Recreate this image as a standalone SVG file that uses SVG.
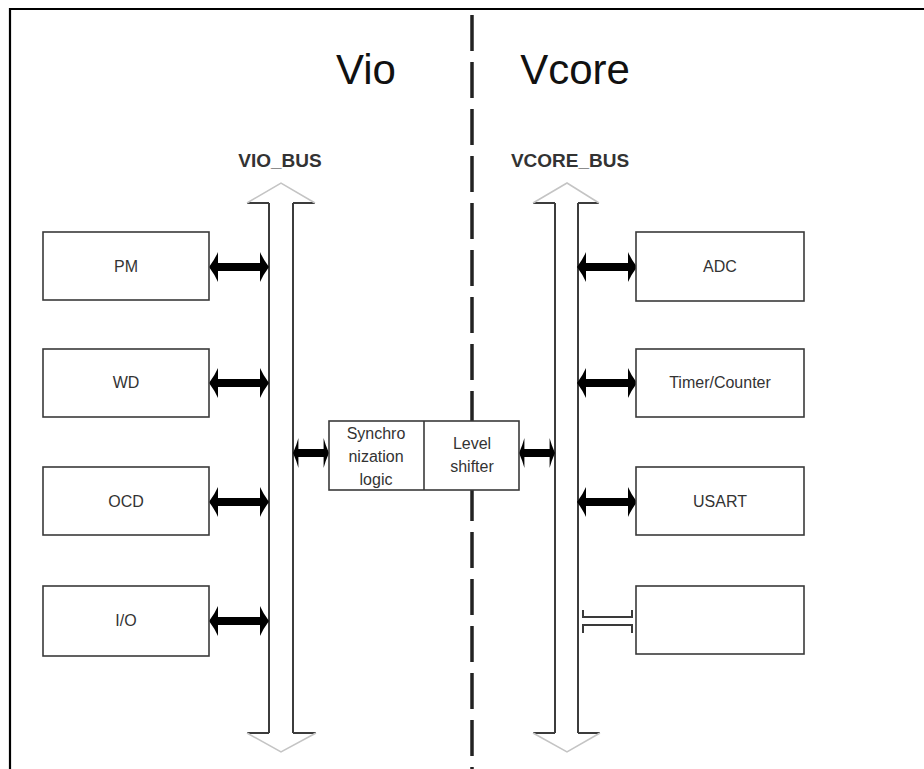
<svg xmlns="http://www.w3.org/2000/svg" width="924" height="769" viewBox="0 0 924 769">
<style>
.box{fill:#fff;stroke:#3a3a3a;stroke-width:1.6}
.lbl{font-family:"Liberation Sans",Arial,sans-serif;font-size:16px;fill:#333;text-anchor:middle}
.big{font-family:"Liberation Sans",Arial,sans-serif;font-size:42px;fill:#111;text-anchor:middle}
.bus{font-family:"Liberation Sans",Arial,sans-serif;font-size:19px;font-weight:bold;fill:#333;text-anchor:middle}
.shaft{fill:none;stroke:#3c3c3c;stroke-width:2}
.head{fill:none;stroke:#c4c4c4;stroke-width:1.5}
.dbl{fill:#000}
</style>
<defs>
<path id="darr" class="dbl" d="M0,0 Q6,-8 9,-15 L9,-4 H51 V-15 Q54,-8 60,0 Q54,8 51,15 V4 H9 V15 Q6,8 0,0 Z"/>
</defs>
<rect x="0" y="0" width="924" height="769" fill="#fff"/>
<path d="M10,769 V9 H924" fill="none" stroke="#000" stroke-width="2.2"/>
<line x1="472" y1="15" x2="472" y2="769" stroke="#222" stroke-width="3.5" stroke-dasharray="36 11"/>
<text class="big" x="366" y="84">Vio</text>
<text class="big" x="575" y="84">Vcore</text>
<text class="bus" x="280" y="167">VIO_BUS</text>
<text class="bus" x="570" y="167">VCORE_BUS</text>
<g id="vio_bus">
<path class="shaft" d="M269,203 V733 M293,203 V733 M247,203 H269 M293,203 H315 M247,733 H269 M293,733 H316"/>
<path class="head" d="M247,203 L281,183 L315,203 M247,733 L281,752 L316,733"/>
</g>
<g id="vcore_bus">
<path class="shaft" d="M555,203 V733 M578,203 V733 M533,203 H555 M578,203 H599 M533,733 H555 M578,733 H600"/>
<path class="head" d="M533,203 L567,183 L599,203 M533,733 L567,752 L600,733"/>
</g>
<g id="connectors">
<use href="#darr" x="209" y="267"/>
<use href="#darr" x="209" y="383"/>
<use href="#darr" x="209" y="502"/>
<use href="#darr" x="209" y="621"/>
<use href="#darr" x="577" y="267"/>
<use href="#darr" x="577" y="383"/>
<use href="#darr" x="577" y="502"/>
<g transform="translate(293,453) scale(0.6,1)"><use href="#darr"/></g>
<g transform="translate(519,453) scale(0.6,1)"><use href="#darr"/></g>
<path d="M583,610 V617 H632 V610 M583,633 V625 H632 V633" fill="none" stroke="#3a3a3a" stroke-width="2"/>
</g>
<g id="pm"><rect class="box" x="43" y="232" width="166" height="68"/><text class="lbl" x="126" y="272">PM</text></g>
<g id="wd"><rect class="box" x="43" y="349" width="166" height="68"/><text class="lbl" x="126" y="388">WD</text></g>
<g id="ocd"><rect class="box" x="43" y="467" width="166" height="68"/><text class="lbl" x="126" y="507">OCD</text></g>
<g id="io"><rect class="box" x="43" y="586" width="166" height="70"/><text class="lbl" x="126" y="626">I/O</text></g>
<g id="adc"><rect class="box" x="636" y="232" width="168" height="69"/><text class="lbl" x="720" y="272">ADC</text></g>
<g id="timer"><rect class="box" x="636" y="349" width="168" height="68"/><text class="lbl" x="720" y="388">Timer/Counter</text></g>
<g id="usart"><rect class="box" x="636" y="467" width="168" height="68"/><text class="lbl" x="720" y="507">USART</text></g>
<g id="empty"><rect class="box" x="636" y="586" width="168" height="68"/></g>
<g id="sync">
<rect class="box" x="329" y="421" width="190" height="69"/>
<line x1="424" y1="421" x2="424" y2="490" stroke="#3a3a3a" stroke-width="1.6"/>
<text class="lbl" x="376" y="439">Synchro</text>
<text class="lbl" x="376" y="462">nization</text>
<text class="lbl" x="376" y="485">logic</text>
<text class="lbl" x="472" y="449">Level</text>
<text class="lbl" x="472" y="472">shifter</text>
</g>
</svg>
